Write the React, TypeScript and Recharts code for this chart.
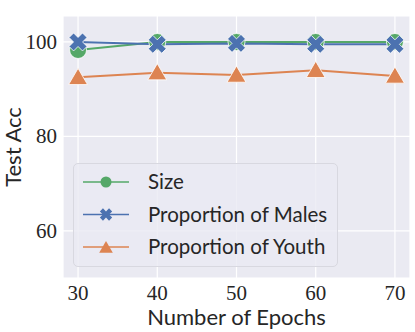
import React from 'react';
import {
  LineChart,
  Line,
  XAxis,
  YAxis,
  CartesianGrid,
  Legend,
} from 'recharts';

const epochs = [30, 40, 50, 60, 70];
const sizeAcc = [98.3, 100.0, 100.0, 100.0, 100.0];
const malesAcc = [100.0, 99.5, 99.7, 99.5, 99.5];
const youthAcc = [92.5, 93.5, 93.0, 94.0, 92.8];

const xTicks = [30, 40, 50, 60, 70];
const yTicks = [60, 80, 100];

const GREEN = '#55a868';
const BLUE = '#4c72b0';
const ORANGE = '#dd8452';
const TEXT = '#262626';
const SERIF = 'Liberation Serif';
const SANS = 'Lato';

const data = epochs.map((e, i) => ({
  epoch: e,
  size: sizeAcc[i],
  males: malesAcc[i],
  youth: youthAcc[i],
}));

// filled "X" marker like matplotlib's
const xPath = (cx: number, cy: number, L: number, t: number) => {
  const pts = [
    [t, L], [t, t], [L, t], [L, -t], [t, -t], [t, -L],
    [-t, -L], [-t, -t], [-L, -t], [-L, t], [-t, t], [-t, L],
  ];
  const r = Math.SQRT1_2;
  return (
    pts
      .map(([x, y], i) => `${i ? 'L' : 'M'}${cx + (x - y) * r},${cy + (x + y) * r}`)
      .join(' ') + ' Z'
  );
};

const triPath = (cx: number, cy: number, s: number) =>
  `M${cx},${cy - s} L${cx + s * 1.05},${cy + s * 0.8} L${cx - s * 1.05},${cy + s * 0.8} Z`;

const CircleDot = (props: any) => {
  const { cx, cy } = props;
  if (cx == null || cy == null) return null;
  return <circle cx={cx} cy={cy} r={8.5} fill={GREEN} stroke="#fff" strokeWidth={0.8} />;
};

const CrossDot = (props: any) => {
  const { cx, cy } = props;
  if (cx == null || cy == null) return null;
  return <path d={xPath(cx, cy, 9.5, 3.2)} fill={BLUE} stroke="#fff" strokeWidth={0.8} />;
};

const TriDot = (props: any) => {
  const { cx, cy } = props;
  if (cx == null || cy == null) return null;
  return <path d={triPath(cx, cy, 9)} fill={ORANGE} stroke="#fff" strokeWidth={0.8} />;
};

const XTick = (props: any) => {
  const { x, payload } = props;
  return (
    <text x={x} y={300} textAnchor="middle" fill={TEXT} fontFamily={SERIF} fontSize={21}>
      {payload.value}
    </text>
  );
};

const YTick = (props: any) => {
  const { y, payload } = props;
  return (
    <text x={57} y={y + 7} textAnchor="end" fill={TEXT} fontFamily={SERIF} fontSize={21}>
      {payload.value}
    </text>
  );
};

const legendItems = [
  { name: 'Size', color: GREEN, kind: 'circle' },
  { name: 'Proportion of Males', color: BLUE, kind: 'cross' },
  { name: 'Proportion of Youth', color: ORANGE, kind: 'tri' },
];

const LegendBox = () => (
  <div
    style={{
      width: 265,
      height: 104,
      boxSizing: 'border-box',
      border: '1px solid #d8d8e0',
      borderRadius: 5,
      background: 'rgba(234,234,242,0.8)',
    }}
  >
    <svg width={263} height={102} style={{ display: 'block' }}>
      {legendItems.map((it, i) => {
        const cy = 18 + i * 32.5;
        return (
          <g key={it.name}>
            <line x1={9} x2={55} y1={cy} y2={cy} stroke={it.color} strokeWidth={1.5} />
            {it.kind === 'circle' && <circle cx={32} cy={cy} r={5.5} fill={it.color} />}
            {it.kind === 'cross' && <path d={xPath(32, cy, 6.5, 2.2)} fill={it.color} />}
            {it.kind === 'tri' && <path d={triPath(32, cy + 0.5, 6.5)} fill={it.color} />}
            <text x={74} y={cy + 7} fill={TEXT} fontFamily={SANS} fontSize={20.5}>
              {it.name}
            </text>
          </g>
        );
      })}
    </svg>
  </div>
);

const YLabel = (props: any) => {
  const { viewBox } = props;
  const cx = 21;
  const cy = viewBox.y + viewBox.height / 2;
  return (
    <text
      x={cx}
      y={cy}
      transform={`rotate(-90, ${cx}, ${cy})`}
      textAnchor="middle"
      fill={TEXT}
      fontFamily={SANS}
      fontSize={22}
    >
      Test Acc
    </text>
  );
};

const XLabel = (props: any) => {
  const { viewBox } = props;
  return (
    <text
      x={viewBox.x + viewBox.width / 2}
      y={325}
      textAnchor="middle"
      fill={TEXT}
      fontFamily={SANS}
      fontSize={22}
    >
      Number of Epochs
    </text>
  );
};

export default function App() {
  return (
    <div style={{ position: 'fixed', left: 0, top: 0, width: 415, height: 332, background: '#fff' }}>
      <LineChart
        width={415}
        height={332}
        data={data}
        margin={{ top: 16, right: 5, bottom: 0, left: 0 }}
      >
        <CartesianGrid fill="#eaeaf2" stroke="#ffffff" strokeWidth={1.2} />
        <XAxis
          dataKey="epoch"
          type="number"
          domain={[28.1, 71.9]}
          ticks={xTicks}
          height={54}
          axisLine={false}
          tickLine={false}
          tickSize={0}
          tick={<XTick />}
          label={<XLabel />}
        />
        <YAxis
          type="number"
          domain={[50, 105.5]}
          ticks={yTicks}
          width={63}
          axisLine={false}
          tickLine={false}
          tickSize={0}
          tick={<YTick />}
          label={<YLabel />}
        />
        <Legend
          layout="horizontal"
          verticalAlign="middle"
          align="center"
          content={<LegendBox />}
          wrapperStyle={{ position: 'absolute', left: 73, top: 163, width: 265, height: 104 }}
        />
        <Line
          dataKey="size"
          stroke={GREEN}
          strokeWidth={2}
          dot={<CircleDot />}
          activeDot={false}
          isAnimationActive={false}
        />
        <Line
          dataKey="males"
          stroke={BLUE}
          strokeWidth={2}
          dot={<CrossDot />}
          activeDot={false}
          isAnimationActive={false}
        />
        <Line
          dataKey="youth"
          stroke={ORANGE}
          strokeWidth={2}
          dot={<TriDot />}
          activeDot={false}
          isAnimationActive={false}
        />
      </LineChart>
    </div>
  );
}
